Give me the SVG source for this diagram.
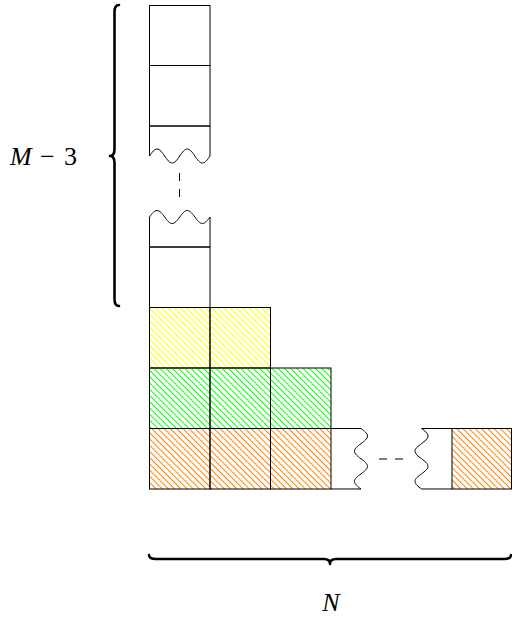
<svg xmlns="http://www.w3.org/2000/svg" width="512" height="618" viewBox="0 0 512 618">
<style>
.ln{fill:none;stroke:#000;stroke-width:1}
.dash{fill:none;stroke:#000;stroke-width:1;stroke-dasharray:8 8}
.brace{fill:none;stroke:#000;stroke-width:2.6;stroke-linecap:round;stroke-linejoin:round}
.y{fill:url(#hy);stroke:#000;stroke-width:1}
.g{fill:url(#hg);stroke:#000;stroke-width:1}
.o{fill:url(#ho);stroke:#000;stroke-width:1}
</style>
<defs>
<pattern id="hy" patternUnits="userSpaceOnUse" width="10" height="4.4" patternTransform="rotate(45)"><line x1="0" y1="2.2" x2="10" y2="2.2" stroke="#ffff00" stroke-width="1"/></pattern>
<pattern id="hg" patternUnits="userSpaceOnUse" width="10" height="4.4" patternTransform="rotate(45)"><line x1="0" y1="2.2" x2="10" y2="2.2" stroke="#00ff00" stroke-width="1"/></pattern>
<pattern id="ho" patternUnits="userSpaceOnUse" width="10" height="4.4" patternTransform="rotate(45)"><line x1="0" y1="2.2" x2="10" y2="2.2" stroke="#ff8000" stroke-width="1"/></pattern>
</defs>
<rect width="512" height="618" fill="#fff"/>

<g id="col1"><rect class="ln" x="149.5" y="5.5" width="60.5" height="60"/></g>
<g id="col2"><rect class="ln" x="149.5" y="65.5" width="60.5" height="60.5"/></g>
<g id="col3"><path class="ln" d="M149.5,156 V126 H210 V156 M149.5,156 c 2.53,-3.68 4.84,-7 7.56,-7 c 2.72,0 5.03,3.33 7.56,7 c 2.53,3.68 4.84,7 7.56,7 c 2.72,0 5.03,-3.33 7.56,-7 c 2.53,-3.68 4.84,-7 7.56,-7 c 2.72,0 5.03,3.33 7.56,7 c 2.53,3.68 4.84,7 7.56,7 c 2.72,0 5.03,-3.33 7.56,-7"/></g>
<g id="col4"><path class="ln" d="M149.5,217 V247 H210 V217 M149.5,217 c 2.53,-3.41 4.84,-6.5 7.56,-6.5 c 2.72,0 5.03,3.09 7.56,6.5 c 2.53,3.41 4.84,6.5 7.56,6.5 c 2.72,0 5.03,-3.09 7.56,-6.5 c 2.53,-3.41 4.84,-6.5 7.56,-6.5 c 2.72,0 5.03,3.09 7.56,6.5 c 2.53,3.41 4.84,6.5 7.56,6.5 c 2.72,0 5.03,-3.09 7.56,-6.5"/></g>
<g id="col5"><rect class="ln" x="149.5" y="247" width="60.5" height="60.5"/></g>

<g id="y1"><rect class="y" x="149.5" y="307.5" width="60.5" height="60.5"/></g>
<g id="y2"><rect class="y" x="210" y="307.5" width="60.5" height="60.5"/></g>
<g id="g1"><rect class="g" x="149.5" y="368" width="60.5" height="60.5"/></g>
<g id="g2"><rect class="g" x="210" y="368" width="60.5" height="60.5"/></g>
<g id="g3"><rect class="g" x="270.5" y="368" width="60.5" height="60.5"/></g>
<g id="o1"><rect class="o" x="149.5" y="428.5" width="60.5" height="60.5"/></g>
<g id="o2"><rect class="o" x="210" y="428.5" width="60.5" height="60.5"/></g>
<g id="o3"><rect class="o" x="270.5" y="428.5" width="60.5" height="60.5"/></g>
<g id="wA"><path class="ln" d="M331,428.5 H361 c 3.41,2.53 6.5,4.84 6.5,7.56 c 0,2.72 -3.09,5.03 -6.5,7.56 c -3.41,2.53 -6.5,4.84 -6.5,7.56 c 0,2.72 3.09,5.03 6.5,7.56 c 3.41,2.53 6.5,4.84 6.5,7.56 c 0,2.72 -3.09,5.03 -6.5,7.56 c -3.41,2.53 -6.5,4.84 -6.5,7.56 c 0,2.72 3.09,5.03 6.5,7.56 H331"/></g>
<g id="wB"><path class="ln" d="M452,428.5 H421.5 c 3.41,2.53 6.5,4.84 6.5,7.56 c 0,2.72 -3.09,5.03 -6.5,7.56 c -3.41,2.53 -6.5,4.84 -6.5,7.56 c 0,2.72 3.09,5.03 6.5,7.56 c 3.41,2.53 6.5,4.84 6.5,7.56 c 0,2.72 -3.09,5.03 -6.5,7.56 c -3.41,2.53 -6.5,4.84 -6.5,7.56 c 0,2.72 3.09,5.03 6.5,7.56 H452"/></g>
<g id="o4"><rect class="o" x="452" y="428.5" width="59.5" height="60.5"/></g>

<g id="connectors">
<line class="dash" x1="179.5" y1="173" x2="179.5" y2="200"/>
<line class="dash" x1="379" y1="459" x2="404" y2="459"/>
</g>

<g id="braceM">
<path class="brace" d="M119,306 Q114.5,306 114.5,299 V163 Q114.5,156 110,156 Q114.5,156 114.5,149 V12 Q114.5,5 119,5"/>
<text x="10" y="165" font-family="'Times New Roman', 'Liberation Serif', serif" font-size="26" fill="#000"><tspan font-style="italic">M</tspan><tspan x="40">−</tspan><tspan x="64">3</tspan></text>
</g>
<g id="braceN">
<path class="brace" d="M149,555 Q149,559 156,559 H324 Q330,559 330,564 Q330,559 336,559 H504 Q511,559 511,555"/>
<text x="331" y="611" text-anchor="middle" font-family="'Times New Roman', 'Liberation Serif', serif" font-size="26" font-style="italic" fill="#000">N</text>
</g>
</svg>
